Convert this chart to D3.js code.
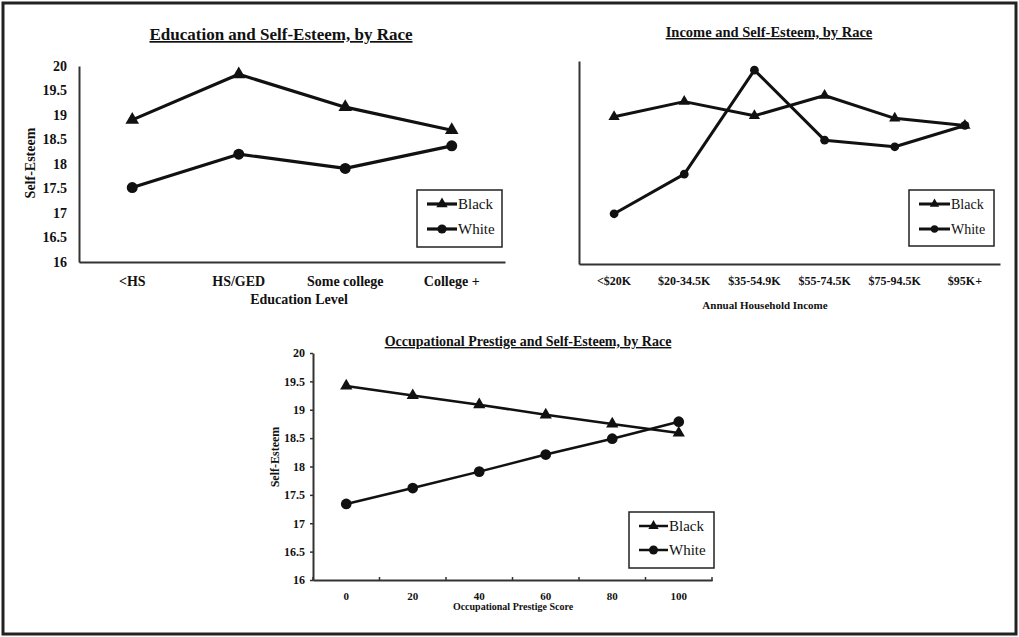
<!DOCTYPE html>
<html>
<head>
<meta charset="utf-8">
<script src="https://cdn.jsdelivr.net/npm/d3@7"></script>
<style>
  body { margin: 0; background: #fff; }
  svg text { font-family: "Liberation Serif", "Times New Roman", serif; fill: #111; }
</style>
</head>
<body>
<svg id="chart" width="1019" height="637"></svg>
<script>
// dados
const yTicks = [16, 16.5, 17, 17.5, 18, 18.5, 19, 19.5, 20];
const seriesNames = ["Black", "White"];

const eduLevels = ["<HS", "HS/GED", "Some college", "College +"];
const eduBlack = [18.9, 19.83, 19.16, 18.69];
const eduWhite = [17.52, 18.2, 17.91, 18.37];

const incomeLevels = ["<$20K", "$20-34.5K", "$35-54.9K", "$55-74.5K", "$75-94.5K", "$95K+"];
const incomeBlack = [18.9, 19.2, 18.92, 19.32, 18.87, 18.73];
const incomeWhite = [16.99, 17.77, 19.82, 18.44, 18.31, 18.73];

const prestigeScores = ["0", "20", "40", "60", "80", "100"];
const prestigeBlack = [19.42, 19.25, 19.09, 18.91, 18.75, 18.59];
const prestigeWhite = [17.34, 17.62, 17.91, 18.21, 18.49, 18.79];

const svg = d3.select("#chart");

// moldura externa
svg.append("rect")
  .attr("x", 3).attr("y", 3)
  .attr("width", 1013).attr("height", 631)
  .attr("fill", "none")
  .attr("stroke", "#222")
  .attr("stroke-width", 3);

function drawChart(o) {

  const g = svg.append("g");
  const x = d3.scaleBand().domain(o.categories).range([o.left, o.right]);
  const y = d3.scaleLinear().domain([16, 20]).range([o.bottom, o.top]);
  const cx = d => x(d) + x.bandwidth() / 2;

  // titulo sublinhado
  g.append("text")
    .attr("x", o.titleX).attr("y", o.titleY)
    .attr("text-anchor", "middle")
    .attr("font-size", o.titleSize)
    .attr("font-weight", "bold")
    .style("text-decoration", "underline")
    .text(o.title);

  // eixo y
  const yAxis = g.append("g")
    .attr("transform", `translate(${o.left},0)`)
    .call(d3.axisLeft(y)
      .tickValues(o.yLabels ? yTicks : [])
      .tickFormat(d3.format(""))
      .tickSize(o.yTickSize)
      .tickSizeOuter(0)
      .tickPadding(o.yPad));
  yAxis.selectAll("text")
    .attr("font-size", o.yTickFont)
    .attr("font-weight", "bold")
    .attr("font-family", null);
  yAxis.select(".domain").attr("stroke", "#333").attr("stroke-width", 2);
  yAxis.selectAll(".tick line").attr("stroke", "#333").attr("stroke-width", 1.5);

  // eixo x
  const xAxis = g.append("g")
    .attr("transform", `translate(0,${o.bottom})`)
    .call(d3.axisBottom(x).tickSize(0).tickSizeOuter(0).tickPadding(o.xPad));
  xAxis.selectAll("text")
    .attr("font-size", o.xTickFont)
    .attr("font-weight", "bold")
    .attr("font-family", null);
  xAxis.select(".domain").attr("stroke", "#333").attr("stroke-width", 2);

  if (o.bandTicks) {
    const edges = o.categories.map(c => x(c)).concat([o.right]);
    g.selectAll(".bt").data(edges).enter().append("line")
      .attr("x1", d => d).attr("x2", d => d)
      .attr("y1", o.bottom - 3).attr("y2", o.bottom + 1)
      .attr("stroke", "#333").attr("stroke-width", 1.5);
  }

  // titulos dos eixos
  if (o.yTitle) {
    g.append("text")
      .attr("transform", `translate(${o.yTitleX},${o.yTitleY}) rotate(-90)`)
      .attr("text-anchor", "middle")
      .attr("dominant-baseline", "central")
      .attr("font-size", o.yTitleSize)
      .attr("font-weight", "bold")
      .text(o.yTitle);
  }
  g.append("text")
    .attr("x", o.xTitleX).attr("y", o.xTitleY)
    .attr("text-anchor", "middle")
    .attr("font-size", o.xTitleSize)
    .attr("font-weight", "bold")
    .text(o.xTitle);

  // linhas e marcadores
  const line = d3.line().x(d => cx(d.c)).y(d => y(d.v));
  const symbols = [d3.symbolTriangle, d3.symbolCircle];
  const sizes = [o.triSize, o.circSize];

  [o.black, o.white].forEach((vals, i) => {
    const pts = vals.map((v, j) => ({ c: o.categories[j], v: v }));
    g.append("path")
      .datum(pts)
      .attr("d", line)
      .attr("fill", "none")
      .attr("stroke", "#111")
      .attr("stroke-width", o.lineWidth)
      .attr("stroke-linejoin", "round");
    g.selectAll(".m" + i).data(pts).enter().append("path")
      .attr("transform", d => `translate(${cx(d.c)},${y(d.v)})`)
      .attr("d", d3.symbol().type(symbols[i]).size(sizes[i]))
      .attr("fill", "#111");
  });

  // legenda
  const L = o.legend;
  g.append("rect")
    .attr("x", L.x).attr("y", L.y)
    .attr("width", L.w).attr("height", L.h)
    .attr("fill", "#fff")
    .attr("stroke", "#222")
    .attr("stroke-width", 1.5);
  seriesNames.forEach((name, i) => {
    const ly = L.y + L.row0 + i * L.rowStep;
    g.append("line")
      .attr("x1", L.x + L.lx0).attr("x2", L.x + L.lx1)
      .attr("y1", ly).attr("y2", ly)
      .attr("stroke", "#111").attr("stroke-width", o.lineWidth);
    g.append("path")
      .attr("transform", `translate(${L.x + (L.lx0 + L.lx1) / 2},${ly})`)
      .attr("d", d3.symbol().type(symbols[i]).size(sizes[i] * 0.7))
      .attr("fill", "#111");
    g.append("text")
      .attr("x", L.x + L.lx1 + 1).attr("y", ly)
      .attr("dominant-baseline", "central")
      .attr("font-size", L.font)
      .text(name);
  });
}

drawChart({
  categories: eduLevels, black: eduBlack, white: eduWhite,
  left: 79, right: 505, top: 66, bottom: 262,
  title: "Education and Self-Esteem, by Race", titleX: 281, titleY: 40, titleSize: 17,
  yLabels: true, yTickSize: 0, yPad: 12, yTickFont: 14,
  xPad: 14, xTickFont: 14,
  yTitle: "Self-Esteem", yTitleX: 30, yTitleY: 163, yTitleSize: 14,
  xTitle: "Education Level", xTitleX: 299, xTitleY: 304, xTitleSize: 14,
  lineWidth: 3.2, triSize: 80, circSize: 95,
  legend: { x: 417, y: 190, w: 85, h: 57, row0: 14, rowStep: 25, lx0: 10, lx1: 40, font: 15 }
});

drawChart({
  categories: incomeLevels, black: incomeBlack, white: incomeWhite,
  left: 579, right: 1000, top: 61, bottom: 264,
  title: "Income and Self-Esteem, by Race", titleX: 769, titleY: 37, titleSize: 14.5,
  yLabels: false, yTickSize: 0, yPad: 8, yTickFont: 12,
  xPad: 12, xTickFont: 12,
  yTitle: null,
  xTitle: "Annual Household Income", xTitleX: 765, xTitleY: 309, xTitleSize: 11,
  lineWidth: 3, triSize: 55, circSize: 60,
  legend: { x: 909, y: 190, w: 85, h: 56, row0: 14, rowStep: 25, lx0: 10, lx1: 41, font: 14 }
});

drawChart({
  categories: prestigeScores, black: prestigeBlack, white: prestigeWhite,
  left: 313, right: 712, top: 353, bottom: 580,
  title: "Occupational Prestige and Self-Esteem, by Race", titleX: 528, titleY: 346, titleSize: 14,
  yLabels: true, yTickSize: 3, yPad: 5, yTickFont: 12,
  xPad: 12, xTickFont: 11, bandTicks: true,
  yTitle: "Self-Esteem", yTitleX: 275, yTitleY: 457, yTitleSize: 12,
  xTitle: "Occupational Prestige Score", xTitleX: 513, xTitleY: 610, xTitleSize: 10,
  lineWidth: 2.5, triSize: 65, circSize: 90,
  legend: { x: 629, y: 512, w: 85, h: 56, row0: 14, rowStep: 24, lx0: 10, lx1: 39, font: 15 }
});
</script>
</body>
</html>
